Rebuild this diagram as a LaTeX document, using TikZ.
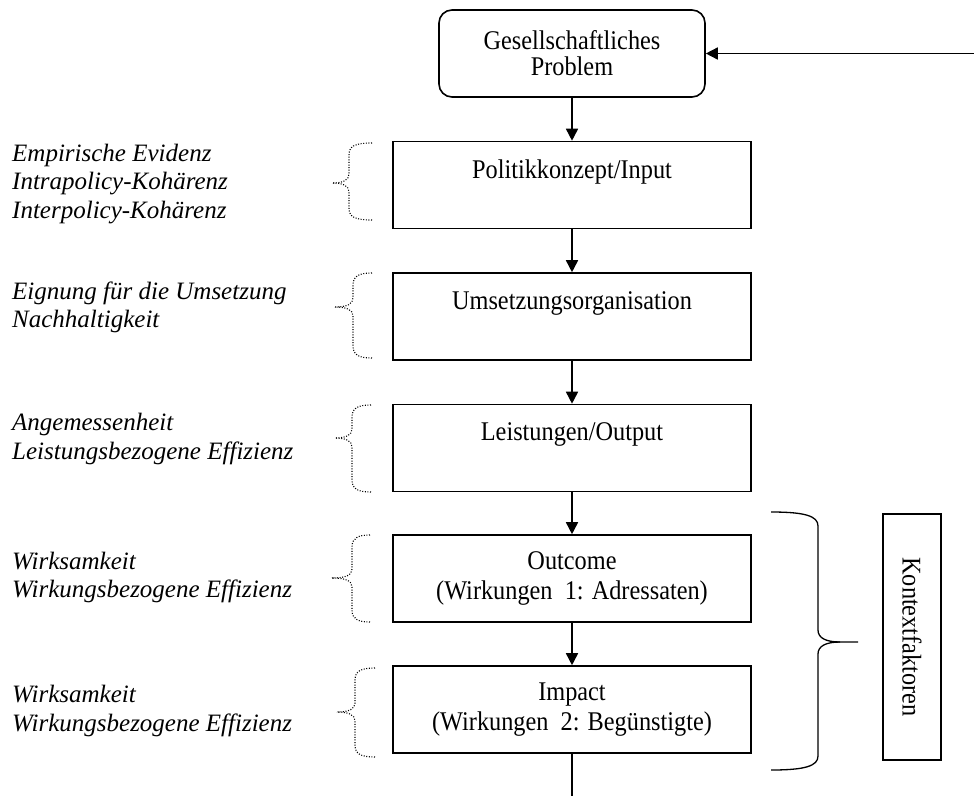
\documentclass[tikz,border=0pt]{standalone}
\usepackage{fontspec}
\setmainfont{Liberation Serif}
\newfontfamily\boxfont[FakeStretch=0.9]{Liberation Serif}
\usetikzlibrary{arrows.meta}
\newcommand\dotbr[6]{%
  \draw[dbr] (#1,#4) .. controls ({#2+6},#4) and (#2,{#4+3}) .. (#2,{#4+12}) -- (#2,{#5-9}) .. controls (#2,{#5-3}) and ({#2-6},#5) .. (#3,#5);
  \draw[dbr] (#1,#6) .. controls ({#2+6},#6) and (#2,{#6-3}) .. (#2,{#6-12}) -- (#2,{#5+9}) .. controls (#2,{#5+3}) and ({#2-6},#5) .. (#3,#5);
}
\begin{document}
\begin{tikzpicture}[x=1pt,y=-1pt,
  mainbox/.style={draw,line width=1.6pt,minimum width=358pt,minimum height=87pt,inner sep=0pt,
     font=\boxfont\fontsize{27}{30}\selectfont,align=center},
  lefttext/.style={anchor=west,inner sep=0pt,align=left,font=\fontsize{25}{28.5}\selectfont\itshape},
  arr/.style={line width=1.6pt,-{Triangle[width=12pt,length=12pt]}},
  dbr/.style={line width=1.1pt,dash pattern=on 1pt off 1.6pt},
  kbr/.style={line width=1.3pt}]
\useasboundingbox (0,0) rectangle (974,796);

\node[draw,line width=1.6pt,rounded corners=13pt,minimum width=266pt,minimum height=87pt,inner sep=0pt,
  align=center,font=\boxfont\fontsize{27}{26}\selectfont] (prob) at (572,53.5) {Gesellschaftliches\\Problem};

\node[mainbox] (pol) at (572,185) {Politikkonzept/Input\\[2pt]~};
\node[mainbox] (ums) at (572,316.5) {Umsetzungsorganisation\\[2pt]~};
\node[mainbox] (lei) at (572,448) {Leistungen/Output\\[2pt]~};
\node[mainbox] (out) at (572,578.5) {Outcome\\(Wirkungen~ 1: Adressaten)};
\node[mainbox] (imp) at (572,709.5) {Impact\\(Wirkungen~ 2: Begünstigte)};

\node[draw,line width=1.4pt,rotate=-90,minimum width=246pt,minimum height=58pt,inner sep=0pt,
  font=\boxfont\fontsize{27}{30}\selectfont] (kon) at (912,637) {Kontextfaktoren};

\coordinate (fb) at (974,53.5);
\coordinate (endp) at (572,796);
\draw[arr] (fb) -- (prob.east);
\draw[arr] (prob.south) -- (pol.north);
\draw[arr] (pol.south) -- (ums.north);
\draw[arr] (ums.south) -- (lei.north);
\draw[arr] (lei.south) -- (out.north);
\draw[arr] (out.south) -- (imp.north);
\draw[line width=1.6pt] (imp.south) -- (endp);

% brace for Kontextfaktoren
\draw[kbr] (771,512) .. controls (805,512) and (818,516) .. (818,526) -- (818,630)
  .. controls (818,638) and (826,642) .. (840,642) -- (858,642);
\draw[kbr] (771,770) .. controls (805,770) and (818,766) .. (818,756) -- (818,654)
  .. controls (818,646) and (826,642) .. (840,642);

% left texts
\node[lefttext] (t1) at (12,184) {Empirische Evidenz\\Intrapolicy-Kohärenz\\Interpolicy-Kohärenz};
\node[lefttext] (t2) at (12,307.5) {Eignung für die Umsetzung\\Nachhaltigkeit};
\node[lefttext] (t3) at (12,439) {Angemessenheit\\Leistungsbezogene Effizienz};
\node[lefttext] (t4) at (12,577.5) {Wirksamkeit\\Wirkungsbezogene Effizienz};
\node[lefttext] (t5) at (12,711) {Wirksamkeit\\Wirkungsbezogene Effizienz};

% dotted braces
\dotbr{372}{349}{333}{143}{183}{220}
\dotbr{372}{353}{335}{273}{307}{358}
\dotbr{371}{352}{335}{405}{438}{492}
\dotbr{370}{352}{332}{535}{578}{622}
\dotbr{375}{355}{337}{668}{712}{757}
\end{tikzpicture}
\end{document}
